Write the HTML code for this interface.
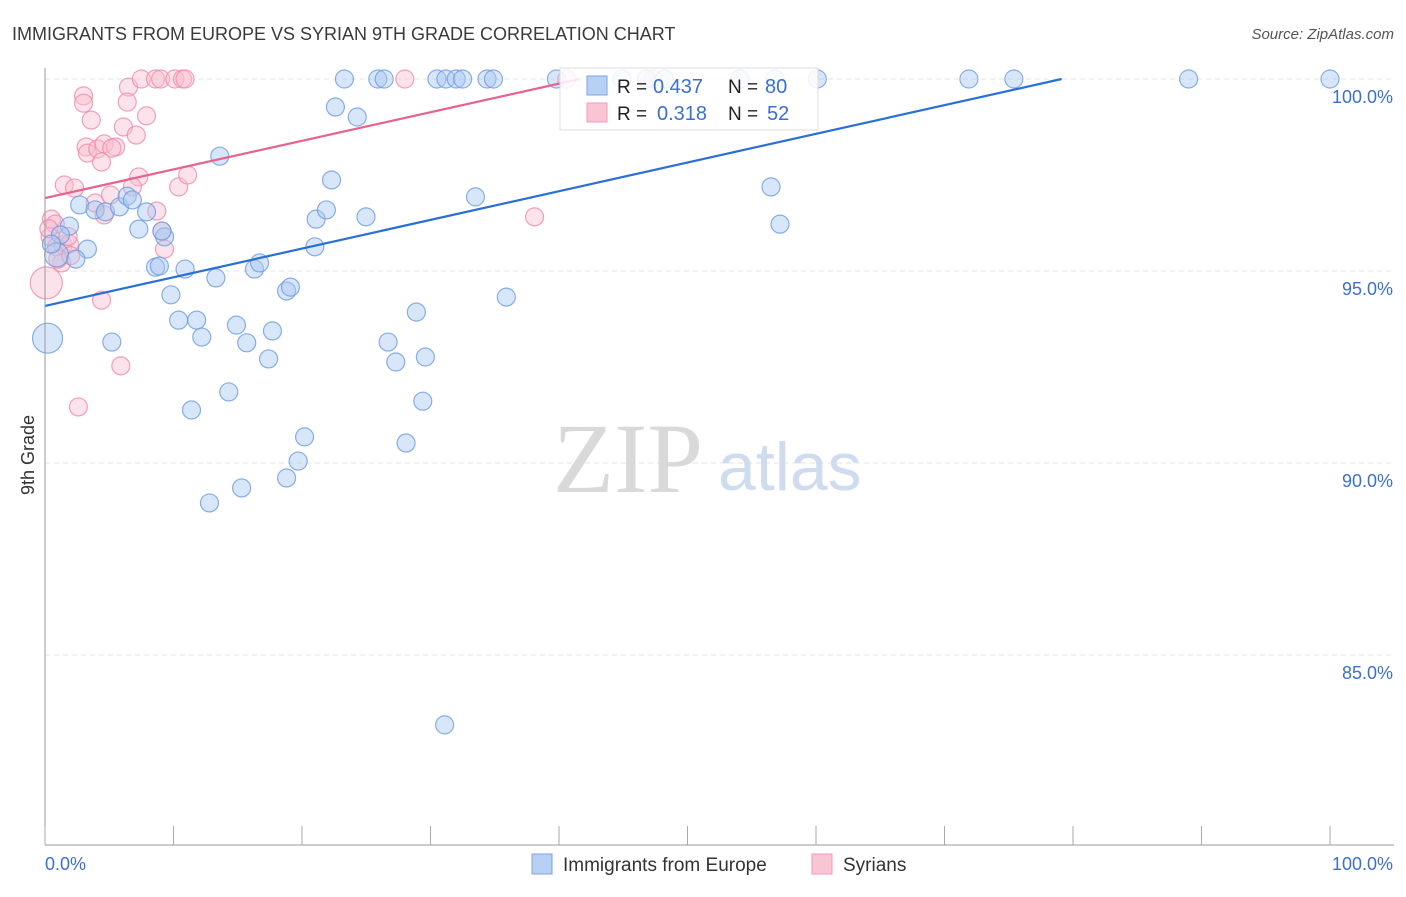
<!DOCTYPE html>
<html><head><meta charset="utf-8"><style>
body{margin:0;background:#fff;font-family:"Liberation Sans",sans-serif}
svg text{font-family:"Liberation Sans",sans-serif}
</style></head><body>
<svg id="chart" width="1406" height="892" xmlns="http://www.w3.org/2000/svg">
<text x="12" y="40" font-size="18" fill="#3a3a3a">IMMIGRANTS FROM EUROPE VS SYRIAN 9TH GRADE CORRELATION CHART</text>
<text x="1394" y="39" font-size="15" fill="#555" text-anchor="end" font-style="italic">Source: ZipAtlas.com</text>
<g id="grid"></g>
<text x="553" y="492" font-size="100" fill="#d9d9d9" style="font-family:'Liberation Serif',serif">ZIP</text>
<text x="718" y="490" font-size="68" fill="#cfdcf0">atlas</text>
<g id="pts"></g>
<g id="lines"></g>
<g id="axes"></g>
<g>
<rect x="560" y="68" width="258" height="62" fill="#fff" fill-opacity="0.85" stroke="#ddd"/>
<rect x="587" y="76" width="20" height="19" fill="#b7d0f3" stroke="#7ba4e0"/>
<rect x="587" y="103" width="20" height="19" fill="#f9c5d4" stroke="#f09ab4"/>
<text x="617" y="93" font-size="19" fill="#222">R =</text>
<text x="653" y="93" font-size="20" fill="#3b6fd0">0.437</text>
<text x="728" y="93" font-size="19" fill="#222">N =</text>
<text x="765" y="93" font-size="20" fill="#3b6fd0">80</text>
<text x="617" y="120" font-size="19" fill="#222">R =</text>
<text x="657" y="120" font-size="20" fill="#3b6fd0">0.318</text>
<text x="728" y="120" font-size="19" fill="#222">N =</text>
<text x="767" y="120" font-size="20" fill="#3b6fd0">52</text>
</g>
<g>
<rect x="532" y="854" width="20" height="20" fill="#b7d0f3" stroke="#7ba4e0"/>
<text x="563" y="871" font-size="19" fill="#333">Immigrants from Europe</text>
<rect x="812" y="854" width="20" height="20" fill="#f9c5d4" stroke="#f09ab4"/>
<text x="843" y="871" font-size="19" fill="#333">Syrians</text>
</g>
<text transform="translate(34,455) rotate(-90)" font-size="18" fill="#333" text-anchor="middle">9th Grade</text>
</svg>
<script>
const yTicks=[100,95,90,85];
const yTickLabels=["100.0%","95.0%","90.0%","85.0%"];
const blueX=[0.2,2.7,1.9,1.2,0.9,3.3,2.4,3.9,4.7,5.8,6.4,6.8,7.9,7.3,9.3,9.1,8.6,8.9,10.9,13.6,9.8,5.2,10.4,11.8,12.2,13.3,14.9,15.7,16.3,16.7,17.7,17.4,18.8,19.1,14.3,11.4,12.8,15.3,20.2,19.7,18.8,21.0,21.1,21.9,22.3,22.6,24.3,24.98,23.3,25.9,26.4,30.5,31.2,32.0,32.5,34.4,34.9,39.8,44.9,46.8,48.2,54.1,56.8,60.1,71.9,75.4,89.0,100,26.7,27.3,28.9,29.6,29.4,28.1,33.5,35.9,31.1,56.5,57.2,0.5];
const blueY=[93.25,96.72,96.17,95.94,95.42,95.57,95.31,96.59,96.54,96.67,96.95,96.85,96.54,96.09,95.89,96.04,95.10,95.13,95.05,97.99,94.38,93.15,93.72,93.72,93.28,94.82,93.59,93.13,95.05,95.21,93.44,92.71,94.48,94.58,91.85,91.38,88.96,89.35,90.68,90.05,89.61,95.63,96.35,96.59,97.37,99.27,99.01,96.41,100,100,100,100,100,100,100,100,100,100,100,100,100,100,100,100,100,100,100,100,93.15,92.63,93.93,92.76,91.61,90.52,96.93,94.32,83.18,97.19,96.22,95.7];
const blueR=[15,9,9,9,12,9,9,9,9,9,9,9,9,9,9,9,9,9,9,9,9,9,9,9,9,9,9,9,9,9,9,9,9,9,9,9,9,9,9,9,9,9,9,9,9,9,9,9,9,9,9,9,9,9,9,9,9,9,9,9,9,9,9,9,9,9,9,9,9,9,9,9,9,9,9,9,9,9,9,9];
const pinkX=[3.0,3.0,3.6,6.5,6.4,7.9,6.1,7.1,3.2,3.3,4.1,4.6,5.5,5.2,4.4,1.5,2.3,7.3,6.8,5.1,10.4,11.1,3.9,4.6,8.7,9.1,9.3,0.5,0.8,0.4,0.9,1.4,1.9,1.3,1.0,0.1,4.4,5.9,2.6,38.1,7.5,8.6,9.0,10.1,10.7,10.9,28.0,40.6,47.3,1.8,0.3,2.0];
const pinkY=[99.56,99.37,98.93,99.79,99.40,99.04,98.75,98.54,98.23,98.07,98.18,98.31,98.23,98.20,97.84,97.24,97.16,97.45,97.19,96.98,97.19,97.50,96.77,96.46,96.56,96.04,95.57,96.35,96.22,95.89,95.63,95.68,95.70,95.21,95.31,94.69,94.24,92.53,91.46,96.41,100,100,100,100,100,100,100,100,100,95.9,96.1,95.4];
const pinkR=[9,9,9,9,9,9,9,9,9,9,9,9,9,9,9,9,9,9,9,9,9,9,9,9,9,9,9,9,9,9,9,9,9,9,9,16,9,9,9,9,9,9,9,9,9,9,9,9,9,9,9,9];
const blueLine=[94.09,0.0747]; // intercept, slope
const pinkLine=[96.9,0.0745];
const NS="http://www.w3.org/2000/svg";
const X0=45,X1=1330,YT=79,Y100=100,PXPER=38.4;
const xs=v=>X0+(X1-X0)*v/100;
const ys=v=>YT+(Y100-v)*PXPER;
function mk(tag,attrs,parent){const e=document.createElementNS(NS,tag);for(const k in attrs)e.setAttribute(k,attrs[k]);parent.appendChild(e);return e;}
const grid=document.getElementById('grid'),axes=document.getElementById('axes'),pts=document.getElementById('pts'),lines=document.getElementById('lines');
yTicks.forEach((t,i)=>{
 const l=mk('line',{x1:X0,x2:1394,y1:ys(t),y2:ys(t),stroke:'#e3e3e3','stroke-dasharray':'5,4'},grid);
 
 
 const tx=mk('text',{x:1393,y:ys(t)+24,'font-size':18,fill:'#3b6fd0','text-anchor':'end'},axes);
 tx.textContent=yTickLabels[i];
 
 
});
const ya=mk('line',{x1:X0,x2:X0,y1:68,y2:845,stroke:'#999'},axes);


const xa=mk('line',{x1:X0,x2:1394,y1:845,y2:845,stroke:'#999'},axes);


for(let i=0;i<=10;i++){const t=mk('line',{x1:xs(i*10),x2:xs(i*10),y1:826,y2:845,stroke:'#aaa'},axes);
 
 }
const l0=mk('text',{x:45,y:870,'font-size':18,fill:'#3b6fd0'},axes);l0.textContent='0.0%';


const l1=mk('text',{x:1393,y:870,'font-size':18,fill:'#3b6fd0','text-anchor':'end'},axes);l1.textContent='100.0%';


function dots(X,Y,R,fill,stroke,name){X.forEach((x,i)=>{const c=mk('circle',{cx:xs(x),cy:ys(Y[i]),r:R[i],fill:fill,'fill-opacity':0.45,stroke:stroke,'stroke-width':1.2,'stroke-opacity':0.8},pts);
 
 });}
dots(pinkX,pinkY,pinkR,'#f9bfd0','#f08aab','syrians-point');
dots(blueX,blueY,blueR,'#a9c7f2','#6d9be0','europe-point');
function trend(p,color,name){const xe=Math.min(100,(100-p[0])/p[1]);const l=mk('line',{x1:xs(0),y1:ys(p[0]),x2:xs(xe),y2:ys(p[0]+p[1]*xe),stroke:color,'stroke-width':2.2},lines);
 
 }
trend(blueLine,'#2a6fd6','europe-trend-line');
trend(pinkLine,'#e8628f','syrians-trend-line');
</script>
</body></html>
